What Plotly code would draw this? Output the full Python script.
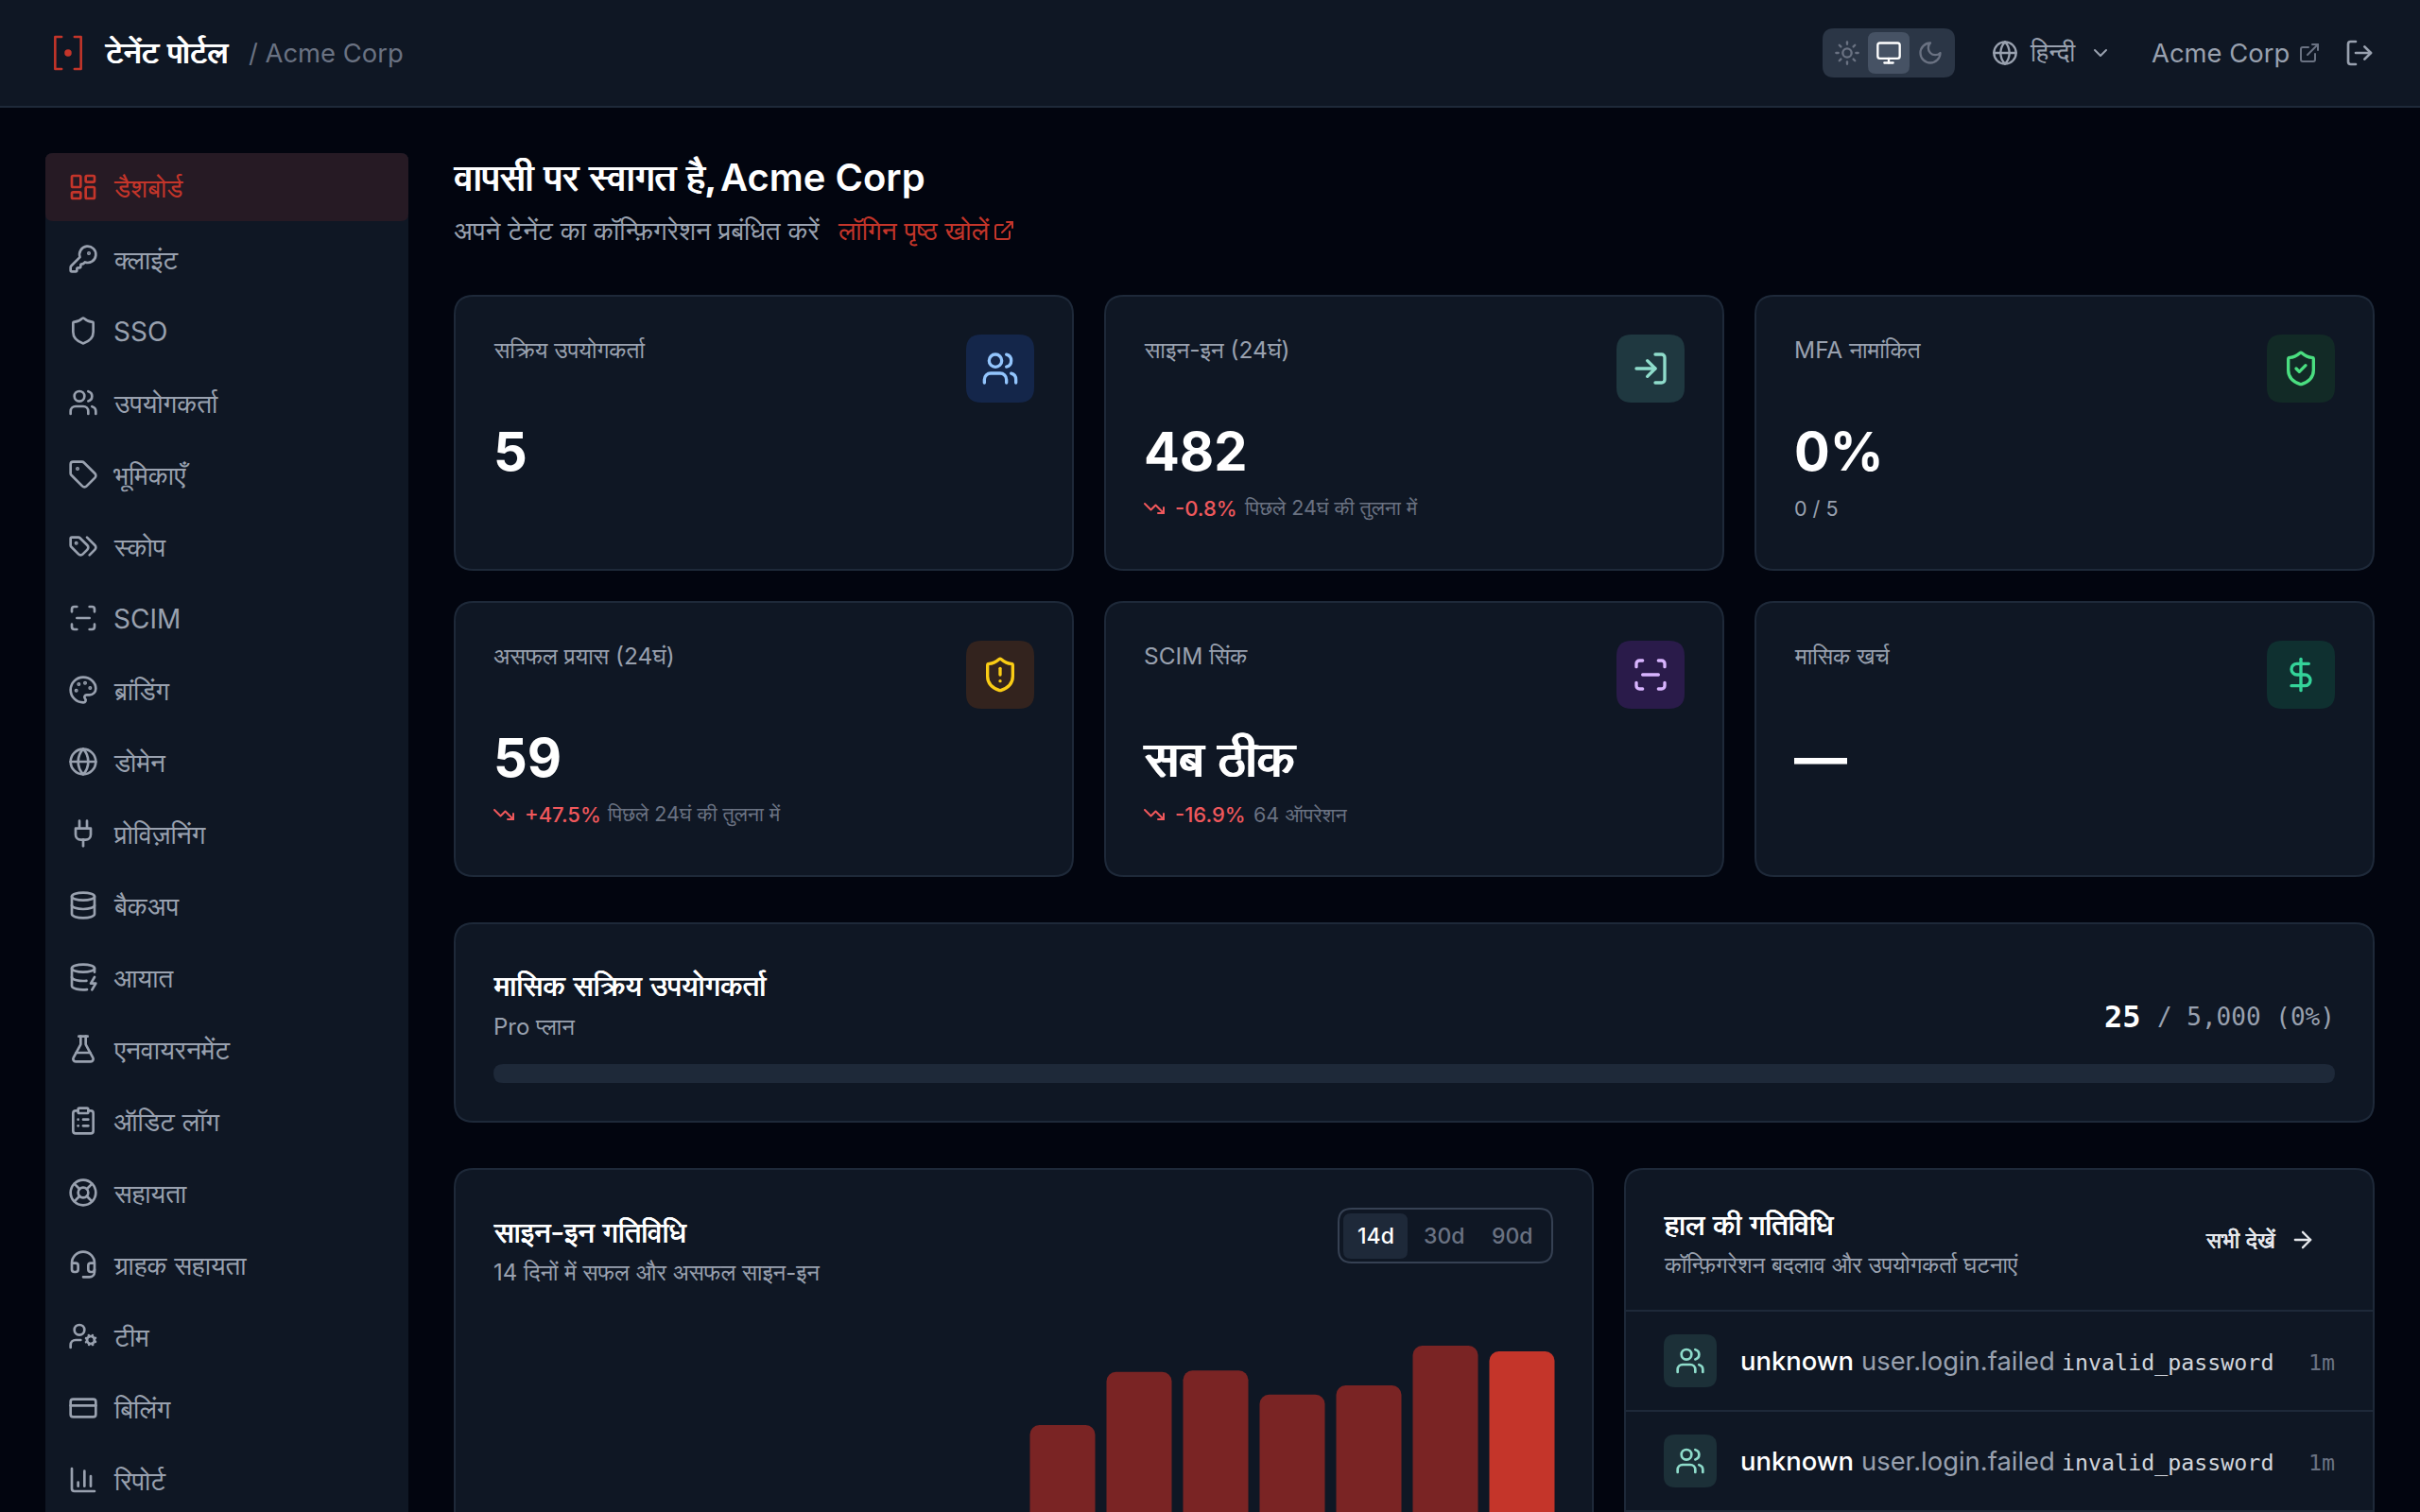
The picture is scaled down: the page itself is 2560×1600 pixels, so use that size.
import base64
import plotly.graph_objs as go

W = 2560
H = 1600

SANS = "Inter, FreeSans, sans-serif"
MONO = "'DejaVu Sans Mono', monospace"

BG = "#02050f"
CARD = "#0f1724"
BORDER = "#1e2939"
WHITE = "#ffffff"
MUTED = "#99a1af"
DIM = "#6a7282"
RED = "#c4352a"
DOWN = "#f0585c"

# navigation
nav_labels = ["डैशबोर्ड", "क्लाइंट", "SSO", "उपयोगकर्ता", "भूमिकाएँ", "स्कोप", "SCIM", "ब्रांडिंग", "डोमेन",
              "प्रोविज़निंग", "बैकअप", "आयात", "एनवायरनमेंट", "ऑडिट लॉग", "सहायता", "ग्राहक सहायता",
              "टीम", "बिलिंग", "रिपोर्ट"]
nav_icons = ["dash", "key", "shield", "users", "tag", "tags", "scan", "palette", "globe", "plug", "db", "dbzap",
             "flask", "clip", "buoy", "headset", "usercog", "card", "chart"]

# stat cards
stat_labels = ["सक्रिय उपयोगकर्ता", "साइन-इन (24घं)", "MFA नामांकित", "असफल प्रयास (24घं)", "SCIM सिंक", "मासिक खर्च"]
stat_values = ["5", "482", "0%", "59", "सब ठीक", "—"]
stat_deltas = ["", "-0.8%", "", "+47.5%", "-16.9%", ""]
stat_notes = ["", "पिछले 24घं की तुलना में", "0 / 5", "पिछले 24घं की तुलना में", "64 ऑपरेशन", ""]
stat_icons = ["users", "login", "shieldok", "shieldbad", "scan", "dollar"]
stat_tile_colors = ["#14264a", "#1f3840", "#122a26", "#33231e", "#2a1b4a", "#0f3030"]
stat_icon_colors = ["#93c5fd", "#8fdccb", "#4ade80", "#facc15", "#d8b4fe", "#34d399"]

# sign-in chart, estimated from the visible part of the bars
days = ["d%d" % i for i in range(1, 15)]
signins = [0, 0, 0, 0, 0, 0, 0, 376, 451, 453, 419, 432, 488, 480]

# activity feed
feed_actor = ["unknown", "unknown"]
feed_event = ["user.login.failed", "user.login.failed"]
feed_detail = ["invalid_password", "invalid_password"]
feed_age = ["1m", "1m"]

ICONS = {
    "dash": '<rect x="3" y="3" width="7" height="9" rx="1"/><rect x="14" y="3" width="7" height="5" rx="1"/><rect x="14" y="12" width="7" height="9" rx="1"/><rect x="3" y="16" width="7" height="5" rx="1"/>',
    "key": '<path d="M2.586 17.414A2 2 0 0 0 2 18.828V21a1 1 0 0 0 1 1h3a1 1 0 0 0 1-1v-1a1 1 0 0 1 1-1h1a1 1 0 0 0 1-1v-1a1 1 0 0 1 1-1h.172a2 2 0 0 0 1.414-.586l.814-.814a6.5 6.5 0 1 0-4-4z"/><circle cx="16.5" cy="7.5" r=".5" fill="currentColor"/>',
    "shield": '<path d="M20 13c0 5-3.5 7.5-7.66 8.95a1 1 0 0 1-.67-.01C7.5 20.5 4 18 4 13V6a1 1 0 0 1 1-1c2 0 4.5-1.2 6.24-2.72a1.17 1.17 0 0 1 1.52 0C14.51 3.81 17 5 19 5a1 1 0 0 1 1 1z"/>',
    "shieldok": '<path d="M20 13c0 5-3.5 7.5-7.66 8.95a1 1 0 0 1-.67-.01C7.5 20.5 4 18 4 13V6a1 1 0 0 1 1-1c2 0 4.5-1.2 6.24-2.72a1.17 1.17 0 0 1 1.52 0C14.51 3.81 17 5 19 5a1 1 0 0 1 1 1z"/><path d="m9 12 2 2 4-4"/>',
    "shieldbad": '<path d="M20 13c0 5-3.5 7.5-7.66 8.95a1 1 0 0 1-.67-.01C7.5 20.5 4 18 4 13V6a1 1 0 0 1 1-1c2 0 4.5-1.2 6.24-2.72a1.17 1.17 0 0 1 1.52 0C14.51 3.81 17 5 19 5a1 1 0 0 1 1 1z"/><path d="M12 8v4"/><path d="M12 16h.01"/>',
    "users": '<path d="M16 21v-2a4 4 0 0 0-4-4H6a4 4 0 0 0-4 4v2"/><circle cx="9" cy="7" r="4"/><path d="M22 21v-2a4 4 0 0 0-3-3.87"/><path d="M16 3.13a4 4 0 0 1 0 7.75"/>',
    "tag": '<path d="M12.586 2.586A2 2 0 0 0 11.172 2H4a2 2 0 0 0-2 2v7.172a2 2 0 0 0 .586 1.414l8.704 8.704a2.426 2.426 0 0 0 3.42 0l6.58-6.58a2.426 2.426 0 0 0 0-3.42z"/><circle cx="7.5" cy="7.5" r=".5" fill="currentColor"/>',
    "tags": '<path d="m15 5 6.3 6.3a2.4 2.4 0 0 1 0 3.4L17 19"/><path d="M9.586 5.586A2 2 0 0 0 8.172 5H3a1 1 0 0 0-1 1v5.172a2 2 0 0 0 .586 1.414L8.29 18.29a2.426 2.426 0 0 0 3.42 0l3.58-3.58a2.426 2.426 0 0 0 0-3.42z"/><circle cx="6.5" cy="9.5" r=".5" fill="currentColor"/>',
    "scan": '<path d="M3 7V5a2 2 0 0 1 2-2h2"/><path d="M17 3h2a2 2 0 0 1 2 2v2"/><path d="M21 17v2a2 2 0 0 1-2 2h-2"/><path d="M7 21H5a2 2 0 0 1-2-2v-2"/><path d="M7 12h10"/>',
    "palette": '<path d="M12 22a1 1 0 0 1 0-20 10 9 0 0 1 10 9 5 5 0 0 1-5 5h-2.25a1.75 1.75 0 0 0-1.4 2.8l.3.4a1.75 1.75 0 0 1-1.4 2.8z"/><circle cx="13.5" cy="6.5" r=".5" fill="currentColor"/><circle cx="17.5" cy="10.5" r=".5" fill="currentColor"/><circle cx="6.5" cy="12.5" r=".5" fill="currentColor"/><circle cx="8.5" cy="7.5" r=".5" fill="currentColor"/>',
    "globe": '<circle cx="12" cy="12" r="10"/><path d="M12 2a14.5 14.5 0 0 0 0 20 14.5 14.5 0 0 0 0-20"/><path d="M2 12h20"/>',
    "plug": '<path d="M12 22v-5"/><path d="M9 8V2"/><path d="M15 8V2"/><path d="M18 8v5a4 4 0 0 1-4 4h-4a4 4 0 0 1-4-4V8Z"/>',
    "db": '<ellipse cx="12" cy="5" rx="9" ry="3"/><path d="M3 5V19A9 3 0 0 0 21 19V5"/><path d="M3 12A9 3 0 0 0 21 12"/>',
    "dbzap": '<ellipse cx="12" cy="5" rx="9" ry="3"/><path d="M3 5V19A9 3 0 0 0 15 21.84"/><path d="M21 5V8"/><path d="M21 12L18 17H22L19 22"/><path d="M3 12A9 3 0 0 0 14.59 14.87"/>',
    "flask": '<path d="M14 2v6a2 2 0 0 0 .245.96l5.51 10.08A2 2 0 0 1 18 22H6a2 2 0 0 1-1.755-2.96l5.51-10.08A2 2 0 0 0 10 8V2"/><path d="M6.453 15h11.094"/><path d="M8.5 2h7"/>',
    "clip": '<rect x="8" y="2" width="8" height="4" rx="1"/><path d="M16 4h2a2 2 0 0 1 2 2v14a2 2 0 0 1-2 2H6a2 2 0 0 1-2-2V6a2 2 0 0 1 2-2h2"/><path d="M12 11h4"/><path d="M12 16h4"/><path d="M8 11h.01"/><path d="M8 16h.01"/>',
    "buoy": '<circle cx="12" cy="12" r="10"/><path d="m4.93 4.93 4.24 4.24"/><path d="m14.83 9.17 4.24-4.24"/><path d="m14.83 14.83 4.24 4.24"/><path d="m9.17 14.83-4.24 4.24"/><circle cx="12" cy="12" r="4"/>',
    "headset": '<path d="M3 11h3a2 2 0 0 1 2 2v3a2 2 0 0 1-2 2H5a2 2 0 0 1-2-2v-5Zm0 0a9 9 0 1 1 18 0m0 0v5a2 2 0 0 1-2 2h-1a2 2 0 0 1-2-2v-3a2 2 0 0 1 2-2h3Z"/><path d="M21 16v2a4 4 0 0 1-4 4h-5"/>',
    "usercog": '<circle cx="18" cy="15" r="3"/><circle cx="9" cy="7" r="4"/><path d="M10 15H6a4 4 0 0 0-4 4v2"/><path d="m21.7 16.4-.9-.3"/><path d="m15.2 13.9-.9-.3"/><path d="m16.6 18.7.3-.9"/><path d="m19.1 12.2.3-.9"/><path d="m19.6 18.7-.4-1"/><path d="m16.8 12.3-.4-1"/><path d="m14.3 16.6 1-.4"/><path d="m20.7 13.8 1-.4"/>',
    "card": '<rect width="20" height="14" x="2" y="5" rx="2"/><line x1="2" x2="22" y1="10" y2="10"/>',
    "chart": '<path d="M3 3v16a2 2 0 0 0 2 2h16"/><path d="M18 17V9"/><path d="M13 17V5"/><path d="M8 17v-3"/>',
    "sun": '<circle cx="12" cy="12" r="4"/><path d="M12 2v2"/><path d="M12 20v2"/><path d="m4.93 4.93 1.41 1.41"/><path d="m17.66 17.66 1.41 1.41"/><path d="M2 12h2"/><path d="M20 12h2"/><path d="m6.34 17.66-1.41 1.41"/><path d="m19.07 4.93-1.41 1.41"/>',
    "monitor": '<rect width="20" height="14" x="2" y="3" rx="2"/><line x1="8" x2="16" y1="21" y2="21"/><line x1="12" x2="12" y1="17" y2="21"/>',
    "moon": '<path d="M12 3a6 6 0 0 0 9 9 9 9 0 1 1-9-9Z"/>',
    "chevron": '<path d="m6 9 6 6 6-6"/>',
    "external": '<path d="M15 3h6v6"/><path d="M10 14 21 3"/><path d="M18 13v6a2 2 0 0 1-2 2H5a2 2 0 0 1-2-2V8a2 2 0 0 1 2-2h6"/>',
    "logout": '<path d="M9 21H5a2 2 0 0 1-2-2V5a2 2 0 0 1 2-2h4"/><path d="m16 17 5-5-5-5"/><path d="M21 12H9"/>',
    "login": '<path d="M15 3h4a2 2 0 0 1 2 2v14a2 2 0 0 1-2 2h-4"/><path d="m10 17 5-5-5-5"/><path d="M15 12H3"/>',
    "trend": '<path d="M16 17h6v-6"/><path d="m22 17-8.5-8.5-5 5L2 7"/>',
    "dollar": '<line x1="12" x2="12" y1="2" y2="22"/><path d="M17 5H9.5a3.5 3.5 0 0 0 0 7h5a3.5 3.5 0 0 1 0 7H6"/>',
    "arrow": '<path d="M5 12h14"/><path d="m12 5 7 7-7 7"/>',
    "logo": '<path d="M8 2H4v20h4" stroke-width="1.5"/><path d="M16 2h4v20h-4" stroke-width="1.5"/><circle cx="12" cy="12" r="1.2" fill="currentColor"/>',
}

shapes = []
annotations = []
images = []


def px(x):
    return x / W


def py(y):
    return 1 - y / H


def box(x0, y0, x1, y1, r, fill, line=None, lw=2):
    # rounded rect in screen pixels, drawn in paper coordinates
    if line:
        x0, y0, x1, y1 = x0 + lw / 2, y0 + lw / 2, x1 - lw / 2, y1 - lw / 2
    a, b, c, d = px(x0), py(y0), px(x1), py(y1)
    rx, ry = r / W, r / H
    path = (f"M{a + rx},{b} L{c - rx},{b} Q{c},{b} {c},{b - ry} L{c},{d + ry} Q{c},{d} {c - rx},{d} "
            f"L{a + rx},{d} Q{a},{d} {a},{d + ry} L{a},{b - ry} Q{a},{b} {a + rx},{b} Z")
    shapes.append(dict(type="path", xref="paper", yref="paper", path=path, fillcolor=fill, layer="below",
                       line=dict(color=line, width=lw) if line else dict(width=0)))


def text(x, y, s, size, color, weight=400, anchor="left", family=SANS, spread=0):
    # spread thickens the regular face, the Devanagari bold in the reference is synthetic
    font = dict(family=family, size=size, color=color, weight=weight)
    if spread:
        font["shadow"] = f"{spread}px 0 0 {color}, -{spread}px 0 0 {color}"
    annotations.append(dict(x=px(x), y=py(y), xref="paper", yref="paper", text=s, showarrow=False, xanchor=anchor,
                            yanchor="middle", borderpad=0, borderwidth=0, align=anchor, font=font))


def icon(name, cx, cy, size, color):
    svg = (f'<svg xmlns="http://www.w3.org/2000/svg" width="{size}" height="{size}" viewBox="0 0 24 24" fill="none" '
           f'color="{color}" stroke="{color}" stroke-width="2" stroke-linecap="round" stroke-linejoin="round">'
           f'{ICONS[name]}</svg>')
    src = "data:image/svg+xml;base64," + base64.b64encode(svg.encode()).decode()
    images.append(dict(source=src, xref="paper", yref="paper", x=px(cx - size / 2), y=py(cy - size / 2),
                       sizex=size / W, sizey=size / H, xanchor="left", yanchor="top", layer="above"))


# header
box(-10, -10, W + 10, 114, 0, CARD)
box(-10, 112, W + 10, 114, 0, "#1e2939")
icon("logo", 72, 56, 41, RED)
text(111, 55, "टेनेंट पोर्टल", 33, WHITE, spread=0.7)
text(263, 56, "/ Acme Corp", 27.4, DIM)
box(1928, 30, 2068, 82, 12, "#2b3646")
box(1976, 34, 2020, 78, 8, "#465264")
icon("sun", 1954, 56, 28, "#6a7282")
icon("monitor", 1998, 56, 28, WHITE)
icon("moon", 2042, 56, 28, "#6a7282")
icon("globe", 2121, 56, 28, MUTED)
text(2147, 55, "हिन्दी", 27, MUTED)
icon("chevron", 2222, 56, 24, MUTED)
text(2276, 56, "Acme Corp", 27.4, MUTED)
icon("external", 2443, 56, 24, DIM)
icon("logout", 2496, 56, 32, MUTED)

# sidebar
box(48, 162, 432, 1650, 8, CARD)
box(48, 162, 432, 234, 8, "#261a24")
for i in range(len(nav_labels)):
    cy = 198 + 76 * i
    col = RED if i == 0 else MUTED
    icon(nav_icons[i], 88, cy, 32, col)
    text(120, cy + 1, nav_labels[i], 28, col)

# page title
text(480, 188, "वापसी पर स्वागत है,", 40, WHITE, spread=0.8)
text(762, 188, "Acme Corp", 40, WHITE, 600)
text(480, 244, "अपने टेनेंट का कॉन्फ़िगरेशन प्रबंधित करें", 28, MUTED)
text(886, 244, "लॉगिन पृष्ठ खोलें", 28, RED)
icon("external", 1062, 244, 24, RED)

# stat cards
note_offset = [42, 148, 42, 162, 158, 42]
for i in range(len(stat_labels)):
    x0 = 480 + 688 * (i % 3)
    y0 = 312 + 324 * (i // 3)
    box(x0, y0, x0 + 656, y0 + 292, 20, CARD, BORDER)
    box(x0 + 542, y0 + 42, x0 + 614, y0 + 114, 16, stat_tile_colors[i])
    icon(stat_icons[i], x0 + 578, y0 + 78, 40, stat_icon_colors[i])
    text(x0 + 42, y0 + 58, stat_labels[i], 24.5, MUTED)
    if any("\u0900" <= c <= "\u097f" for c in stat_values[i]):
        text(x0 + 42, y0 + 166, stat_values[i], 54, WHITE, spread=1.2)
    else:
        text(x0 + 42, y0 + 166, stat_values[i], 56, WHITE, 700)
    if stat_deltas[i]:
        icon("trend", x0 + 53, y0 + 226, 24, DOWN)
        text(x0 + 75, y0 + 226, stat_deltas[i], 22, DOWN, 500)
    text(x0 + note_offset[i], y0 + 226, stat_notes[i], 21.5, DIM if stat_deltas[i] else MUTED)

# monthly active users
box(480, 976, 2512, 1188, 20, CARD, BORDER)
text(522, 1043, "मासिक सक्रिय उपयोगकर्ता", 31.4, WHITE, spread=0.4)
text(522, 1086, "Pro प्लान", 24, MUTED)
text(2226, 1076, "25", 32, WHITE, 700, family=MONO)
text(2470, 1076, "/ 5,000 (0%)", 26, MUTED, anchor="right", family=MONO)
box(522, 1126, 2470, 1146, 10, "#1e2939")

# chart card
box(480, 1236, 1686, 1650, 20, CARD, BORDER)
text(522, 1303, "साइन-इन गतिविधि", 31, WHITE, spread=0.4)
text(522, 1346, "14 दिनों में सफल और असफल साइन-इन", 24, MUTED)
box(1415, 1278, 1643, 1337, 14, CARD, "#364153")
box(1421, 1284, 1489, 1332, 8, "#1e2939")
text(1455, 1308, "14d", 23, WHITE, 500, anchor="center")
text(1527, 1308, "30d", 23, DIM, 500, anchor="center")
text(1600, 1308, "90d", 23, DIM, 500, anchor="center")

# activity card
box(1718, 1236, 2512, 1650, 20, CARD, BORDER)
text(1760, 1295, "हाल की गतिविधि", 31, WHITE, spread=0.4)
text(1760, 1338, "कॉन्फ़िगरेशन बदलाव और उपयोगकर्ता घटनाएं", 24, MUTED)
text(2333, 1312, "सभी देखें", 24, "#e5e7eb", spread=0.3)
icon("arrow", 2436, 1312, 28, "#e5e7eb")
box(1720, 1386, 2510, 1388, 0, BORDER)
for i in range(len(feed_actor)):
    cy = 1440 + 106 * i
    box(1760, cy - 28, 1816, cy + 28, 12, "#1c3038")
    icon("users", 1788, cy, 32, "#8fdccb")
    text(1841, cy, feed_actor[i], 27.4, WHITE, 500)
    text(1969, cy, feed_event[i], 27.4, MUTED)
    text(2181, cy + 2, feed_detail[i], 23.3, "#d1d5dc", family=MONO)
    text(2470, cy + 1, feed_age[i], 23.3, DIM, anchor="right", family=MONO)
    box(1720, cy + 52, 2510, cy + 54, 0, BORDER)

bar_colors = ["#7a2424"] * (len(days) - 1) + [RED]
bars = go.Bar(x=days, y=signins, marker=dict(color=bar_colors, line=dict(width=0)), hoverinfo="y", showlegend=False)

layout = go.Layout(
    width=W,
    height=H,
    autosize=False,
    margin=dict(l=0, r=0, t=0, b=0),
    paper_bgcolor=BG,
    plot_bgcolor="rgba(0,0,0,0)",
    bargap=0.148,
    barcornerradius=10,
    xaxis=dict(domain=[px(516.5), px(1650.5)], visible=False, fixedrange=True),
    yaxis=dict(domain=[0, py(1400)], range=[253.3, 520], visible=False, fixedrange=True),
    shapes=shapes,
    annotations=annotations,
    images=images,
)

fig = go.Figure(data=[bars], layout=layout)
fig.write_html("out.html", config=dict(displayModeBar=False),
               post_script="document.body.style.margin='0';document.body.style.overflow='hidden';document.body.style.background='%s';" % BG)
